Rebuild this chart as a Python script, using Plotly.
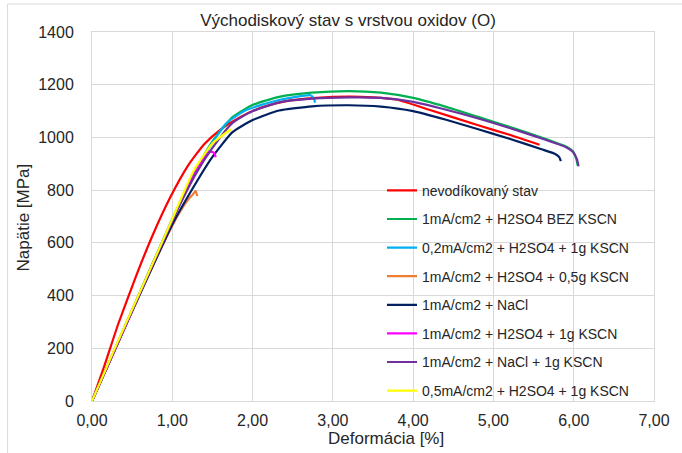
import plotly.graph_objects as go

title_text = "Východiskový stav s vrstvou oxidov (O)"
x_title = "Deformácia [%]"
y_title = "Napätie [MPa]"

names = [
    "nevodíkovaný stav",
    "1mA/cm2 + H2SO4 BEZ KSCN",
    "0,2mA/cm2 + H2SO4 + 1g KSCN",
    "1mA/cm2 + H2SO4 + 0,5g KSCN",
    "1mA/cm2 + NaCl",
    "1mA/cm2 + H2SO4 + 1g KSCN",
    "1mA/cm2 + NaCl + 1g KSCN",
    "0,5mA/cm2 + H2SO4 + 1g KSCN",
]
colors = ["#FF0000", "#00B050", "#00B0F0", "#ED7D31", "#002060", "#FF00FF", "#7030A0", "#FFFF00"]

red_x = [0, 0.15, 0.33, 0.55, 0.75, 0.97, 1.2, 1.4, 1.6, 1.85, 2.1, 2.4, 2.8, 3.2, 3.5, 3.8, 4.2, 4.8, 5.2, 5.575]
red_y = [0, 130, 295, 475, 625, 770, 895, 975, 1030, 1078, 1112, 1137, 1150, 1155, 1152, 1143, 1105, 1047, 1010, 972]

green_x = [0, 0.5, 1.0, 1.3, 1.5, 1.75, 2.0, 2.33, 2.74, 3.2, 3.6, 4.0, 4.4, 4.8, 5.2, 5.6, 5.91, 5.99, 6.03, 6.05]
green_y = [0, 345, 690, 880, 985, 1077, 1123, 1154, 1170, 1176, 1170, 1150, 1117, 1079, 1040, 1000, 965, 948, 920, 893]

cyan_x = [0, 0.5, 1.0, 1.3, 1.5, 1.67, 1.92, 2.33, 2.72, 2.76, 2.78]
cyan_y = [0, 345, 688, 875, 980, 1053, 1104, 1142, 1160, 1150, 1132]

orange_x = [0, 0.3, 0.6, 1.0, 1.1, 1.2, 1.26, 1.29, 1.31]
orange_y = [0, 205, 410, 665, 720, 765, 785, 797, 778]

navy_x = [0, 0.5, 1.0, 1.3, 1.5, 1.75, 2.0, 2.33, 2.74, 3.2, 3.6, 4.0, 4.4, 4.8, 5.2, 5.6, 5.77, 5.82, 5.84]
navy_y = [0, 340, 670, 830, 926, 1020, 1066, 1102, 1118, 1122, 1117, 1100, 1068, 1032, 995, 955, 937, 925, 910]

magenta_x = [0, 0.3, 0.6, 1.0, 1.2, 1.35, 1.46, 1.52, 1.54]
magenta_y = [0, 205, 412, 685, 815, 900, 946, 942, 925]

purple_x = [0, 0.5, 1.0, 1.3, 1.5, 1.75, 2.0, 2.33, 2.74, 3.2, 3.6, 4.0, 4.4, 4.8, 5.2, 5.6, 5.91, 5.99, 6.04, 6.06]
purple_y = [0, 345, 685, 865, 960, 1055, 1100, 1133, 1147, 1152, 1150, 1135, 1106, 1073, 1036, 996, 962, 945, 918, 890]

yellow_x = [0, 0.27, 0.68, 1.0, 1.26, 1.5, 1.73]
yellow_y = [0, 190, 470, 690, 870, 977, 1031]

series = [
    (red_x, red_y), (green_x, green_y), (cyan_x, cyan_y), (orange_x, orange_y),
    (navy_x, navy_y), (magenta_x, magenta_y), (purple_x, purple_y), (yellow_x, yellow_y),
]

x_ticks = [0, 1, 2, 3, 4, 5, 6, 7]
y_ticks = [0, 200, 400, 600, 800, 1000, 1200, 1400]

fig = go.Figure()
for i, ((xs, ys), name, col) in enumerate(zip(series, names, colors)):
    fig.add_trace(go.Scatter(
        x=xs, y=ys, name=name, mode="lines",
        line=dict(color=col, width=2.2, shape="spline", smoothing=0.5),
        legendgroup=f"g{i}",
    ))

font_family = "Liberation Sans, Arial, sans-serif"
txt_col = "#262626"
grid_col = "#D9D9D9"

fig.update_layout(
    width=682, height=453,
    margin=dict(l=92, r=24, t=32, b=52),
    paper_bgcolor="white", plot_bgcolor="white",
    separators=", ",
    font=dict(family=font_family, color=txt_col, size=16),
    title=dict(text=title_text, x=348 / 682, xref="container", xanchor="center",
               y=1 - 20 / 453, yref="container", yanchor="middle",
               font=dict(size=17, color=txt_col, family=font_family)),
    showlegend=True,
    legend=dict(x=0.516, xanchor="left", y=0.613, yanchor="top",
                bgcolor="rgba(0,0,0,0)", borderwidth=0,
                font=dict(size=14, color=txt_col, family=font_family),
                traceorder="grouped", tracegroupgap=7.4, itemwidth=30),
    xaxis=dict(range=[0, 7], tickvals=x_ticks, tickformat=".2f",
               showgrid=True, gridcolor=grid_col, gridwidth=1,
               showline=True, linecolor=grid_col, linewidth=1, mirror=True,
               zeroline=False, ticks="", ticklen=0, ticklabelstandoff=5,
               tickfont=dict(size=16, color=txt_col)),
    yaxis=dict(range=[0, 1400], tickvals=y_ticks, tickformat="d",
               showgrid=True, gridcolor=grid_col, gridwidth=1,
               showline=True, linecolor=grid_col, linewidth=1, mirror=True,
               zeroline=False, ticks="outside", ticklen=14, tickcolor="rgba(0,0,0,0)",
               tickfont=dict(size=16, color=txt_col)),
    annotations=[
        dict(text=x_title, xref="paper", yref="paper",
             x=(388 - 92) / 566, y=(401 - 438) / 369, xanchor="center", yanchor="middle",
             showarrow=False, font=dict(size=17, color=txt_col, family=font_family)),
        dict(text=y_title, xref="paper", yref="paper", textangle=-90,
             x=(24 - 92) / 566, y=(401 - 217) / 369, xanchor="center", yanchor="middle",
             showarrow=False, font=dict(size=17, color=txt_col, family=font_family)),
    ],
    shapes=[dict(type="rect", xref="paper", yref="paper",
                 x0=(7 - 92) / 566, x1=1.08, y0=-0.2, y1=(401 - 4) / 369,
                 line=dict(color=grid_col, width=1), fillcolor="rgba(0,0,0,0)", layer="below")],
)

fig.write_html("out.html")
